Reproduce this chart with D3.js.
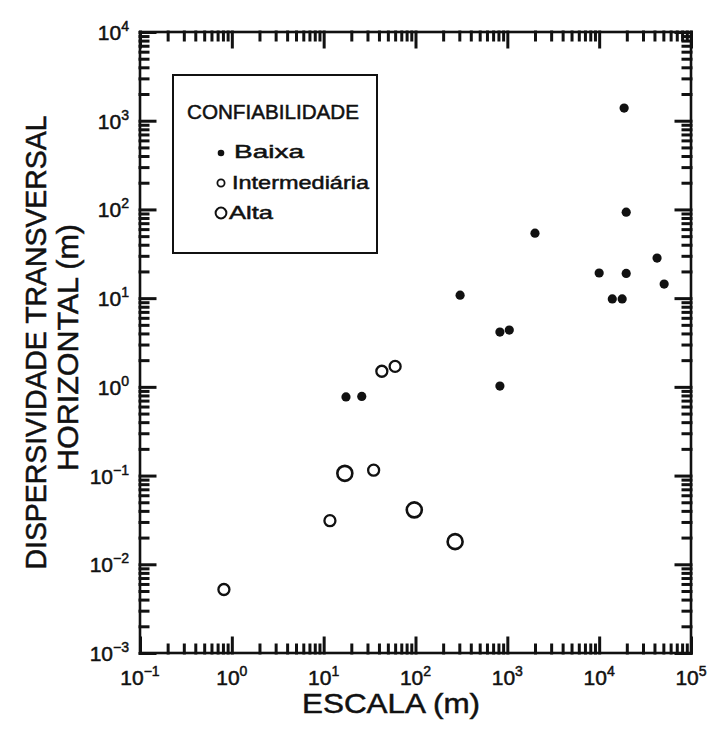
<!DOCTYPE html>
<html>
<head>
<meta charset="utf-8">
<script src="https://cdn.jsdelivr.net/npm/d3@7"></script>
<style>
  body { margin: 0; background: #fff; }
  svg { display: block; }
  text { font-family: "Liberation Sans", Arial, sans-serif; fill: #111; stroke: #111; stroke-width: 0.5; }
</style>
</head>
<body>
<svg id="chart" width="708" height="733"></svg>
<script>
// data (x = escala m, y = dispersividade m)
let baixaX = [17.5, 26, 306, 830, 1050, 830, 2000, 10000, 13900, 17800, 18700, 19700, 19700, 42700, 51000];
let baixaY = [0.77, 0.78, 10.8, 4.15, 4.37, 1.02, 54, 19.2, 9.8, 9.8, 1390, 93, 19, 28.3, 14.4];

let interX = [0.82, 11.7, 35, 43, 60];
let interY = [0.0052, 0.031, 0.115, 1.5, 1.7];

let altaX = [17, 97, 270];
let altaY = [0.106, 0.041, 0.018];

let xExps = [-1, 0, 1, 2, 3, 4, 5];
let yExps = [-3, -2, -1, 0, 1, 2, 3, 4];

let legendTitle = 'CONFIABILIDADE';
let legendNames = ['Baixa', 'Intermediária', 'Alta'];

let xTitle = 'ESCALA  (m)';
let yTitle1 = 'DISPERSIVIDADE  TRANSVERSAL';
let yTitle2 = 'HORIZONTAL  (m)';

let svg = d3.select('#chart'),
    ink = '#111',
    pLeft = 140, pRight = 691, pTop = 32, pBottom = 653;

let x = d3.scaleLog().domain([0.1, 1e5]).range([pLeft, pRight]),
    y = d3.scaleLog().domain([1e-3, 1e4]).range([pBottom, pTop]);

let minorTicks = function (exps) {
  let out = [];
  exps.slice(0, -1).forEach(function (e) {
    for (let m = 2; m <= 9; m++) out.push(m * Math.pow(10, e));
  });
  return out;
};

let xMajor = xExps.map(e => Math.pow(10, e)),
    yMajor = yExps.map(e => Math.pow(10, e));

svg.append('rect')
  .attr('x', pLeft).attr('y', pTop)
  .attr('width', pRight - pLeft).attr('height', pBottom - pTop)
  .attr('fill', 'none').attr('stroke', ink).attr('stroke-width', 2.6);

// power-of-ten labels
let powLabel = function (sel) {
  sel.append('tspan').text('10');
  sel.append('tspan')
    .attr('dy', -9).attr('font-size', 14)
    .text(d => String(d).replace('-', '\u2212'));
};

svg.append('g').selectAll('text')
  .data(xExps)
  .join('text')
  .attr('x', d => x(Math.pow(10, d)))
  .attr('y', 685)
  .attr('text-anchor', 'middle')
  .attr('font-size', 21)
  .call(powLabel);

svg.append('g').selectAll('text')
  .data(yExps)
  .join('text')
  .attr('x', 129)
  .attr('y', d => y(Math.pow(10, d)) + 8)
  .attr('text-anchor', 'end')
  .attr('font-size', 21)
  .call(powLabel);

// axis titles
svg.append('text')
  .attr('x', 391).attr('y', 713)
  .attr('text-anchor', 'middle')
  .attr('font-size', 28)
  .attr('textLength', 178).attr('lengthAdjust', 'spacingAndGlyphs')
  .text(xTitle);

let yt = svg.append('g')
  .attr('transform', `translate(0,${(pTop + pBottom) / 2}) rotate(-90)`);

yt.append('text')
  .attr('x', 0).attr('y', 46)
  .attr('text-anchor', 'middle')
  .attr('font-size', 30)
  .attr('textLength', 454).attr('lengthAdjust', 'spacingAndGlyphs')
  .text(yTitle1);

yt.append('text')
  .attr('x', -5).attr('y', 78)
  .attr('text-anchor', 'middle')
  .attr('font-size', 30)
  .attr('textLength', 247).attr('lengthAdjust', 'spacingAndGlyphs')
  .text(yTitle2);

// data
let plot = svg.append('g');

plot.selectAll('circle.baixa')
  .data(d3.zip(baixaX, baixaY))
  .join('circle')
  .attr('class', 'baixa')
  .attr('cx', d => x(d[0])).attr('cy', d => y(d[1]))
  .attr('r', 4.6)
  .attr('fill', ink);

plot.selectAll('circle.inter')
  .data(d3.zip(interX, interY))
  .join('circle')
  .attr('class', 'inter')
  .attr('cx', d => x(d[0])).attr('cy', d => y(d[1]))
  .attr('r', 5.5)
  .attr('fill', 'none').attr('stroke', ink).attr('stroke-width', 2.3);

plot.selectAll('circle.alta')
  .data(d3.zip(altaX, altaY))
  .join('circle')
  .attr('class', 'alta')
  .attr('cx', d => x(d[0])).attr('cy', d => y(d[1]))
  .attr('r', 7.5)
  .attr('fill', 'none').attr('stroke', ink).attr('stroke-width', 2.6);

// legend
let legend = svg.append('g');

legend.append('rect')
  .attr('x', 173).attr('y', 75)
  .attr('width', 204).attr('height', 178)
  .attr('fill', '#fff').attr('stroke', ink).attr('stroke-width', 2);

legend.append('text')
  .attr('x', 187).attr('y', 119)
  .attr('font-size', 20)
  .attr('textLength', 172).attr('lengthAdjust', 'spacingAndGlyphs')
  .text(legendTitle);

let legendRows = [
  { name: legendNames[0], cy: 153, r: 3.3, fill: ink, sw: 0, tx: 234, ty: 158, len: 70 },
  { name: legendNames[1], cy: 183, r: 3.6, fill: 'none', sw: 1.8, tx: 232, ty: 189, len: 137 },
  { name: legendNames[2], cy: 213, r: 5.4, fill: 'none', sw: 2, tx: 229, ty: 219, len: 44 }
];

legendRows.forEach(function (row) {
  legend.append('circle')
    .attr('cx', 221).attr('cy', row.cy).attr('r', row.r)
    .attr('fill', row.fill).attr('stroke', ink).attr('stroke-width', row.sw);
  legend.append('text')
    .attr('x', row.tx).attr('y', row.ty)
    .attr('font-size', 19)
    .attr('textLength', row.len).attr('lengthAdjust', 'spacingAndGlyphs')
    .text(row.name);
});

// ticks on all four sides, pointing inward, drawn last so nothing covers them
let drawTicks = function (axisFn, scale, vals, len, transform) {
  let g = svg.append('g')
    .attr('transform', transform)
    .call(axisFn(scale).tickValues(vals).tickSize(-len).tickFormat(() => ''));
  g.select('.domain').remove();
  g.selectAll('line')
    .attr('stroke', ink)
    .attr('stroke-width', 3)
    .attr('stroke-linecap', 'square');
};

drawTicks(d3.axisBottom, x, xMajor, 15, `translate(0,${pBottom})`);
drawTicks(d3.axisBottom, x, minorTicks(xExps), 8, `translate(0,${pBottom})`);
drawTicks(d3.axisTop, x, xMajor, 15, `translate(0,${pTop})`);
drawTicks(d3.axisTop, x, minorTicks(xExps), 8, `translate(0,${pTop})`);
drawTicks(d3.axisLeft, y, yMajor, 15, `translate(${pLeft},0)`);
drawTicks(d3.axisLeft, y, minorTicks(yExps), 8, `translate(${pLeft},0)`);
drawTicks(d3.axisRight, y, yMajor, 15, `translate(${pRight},0)`);
drawTicks(d3.axisRight, y, minorTicks(yExps), 8, `translate(${pRight},0)`);
</script>
</body>
</html>
